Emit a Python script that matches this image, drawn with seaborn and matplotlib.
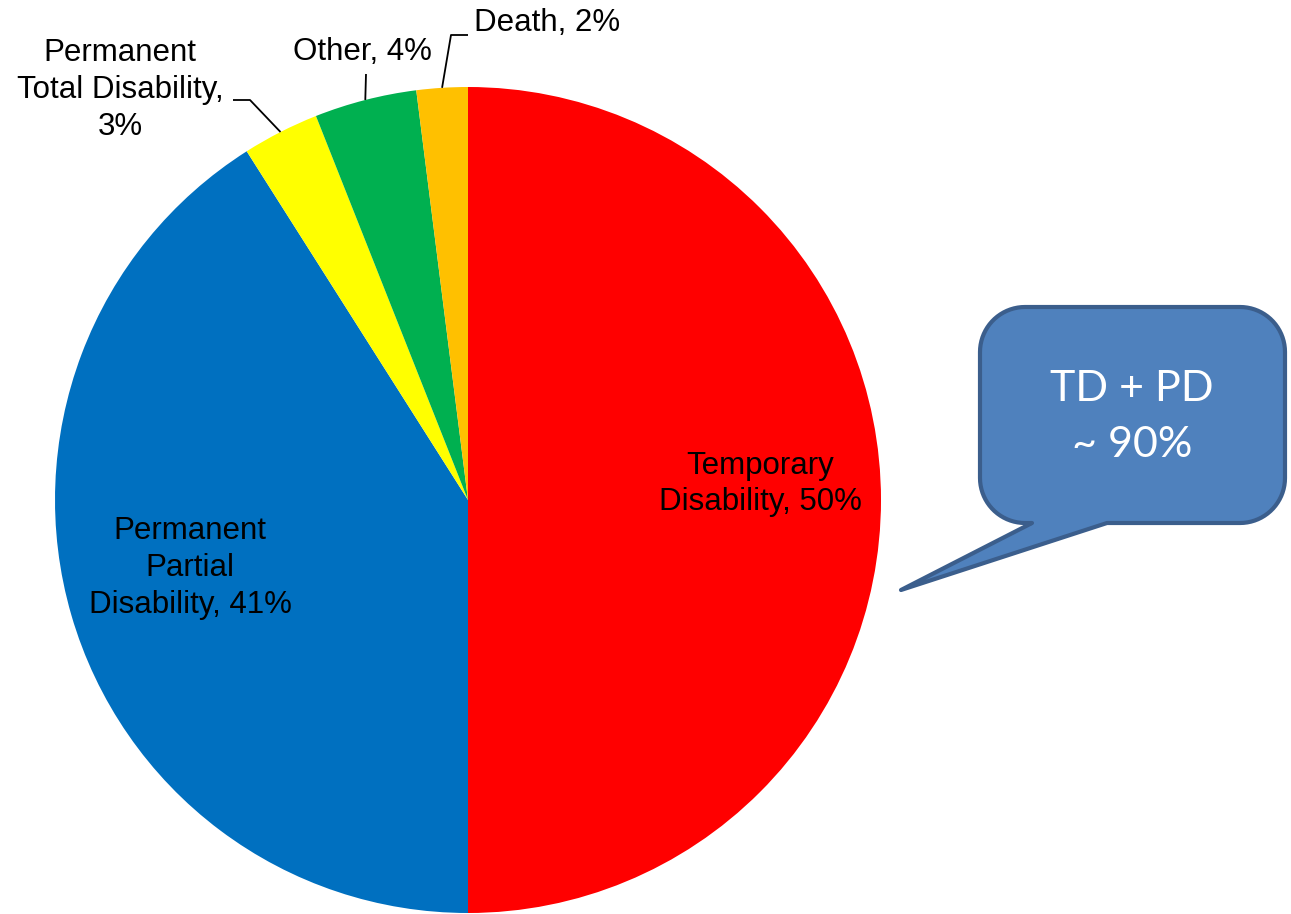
import numpy as np
import seaborn as sns
import matplotlib.pyplot as plt
from matplotlib.patches import Polygon

# data
categories = ["Temporary Disability", "Permanent Partial Disability",
              "Permanent Total Disability", "Other", "Death"]
shares = [50, 41, 3, 4, 2]
slice_labels = ["Temporary\nDisability, 50%",
                "Permanent\nPartial\nDisability, 41%",
                "Permanent\nTotal Disability,\n3%",
                "Other, 4%",
                "Death, 2%"]
slice_colors = ["#FF0000", "#0070C0", "#FFFF00", "#00B050", "#FFC000"]
callout_text = "TD + PD\n~ 90%"

sns.set_theme(style="white")
plt.rcParams['font.family'] = ['Liberation Sans', 'DejaVu Sans']

W, H = 1291, 914
fig = plt.figure(figsize=(W / 100, H / 100), dpi=100)
ax = fig.add_axes([0, 0, 1, 1])


def Y(y):
    # image pixel row -> data y
    return H - y


cx, cy, R = 468, Y(500), 413
wedges, _ = ax.pie(shares, colors=slice_colors, startangle=90, counterclock=False,
                   center=(cx, cy), radius=R, frame=True,
                   wedgeprops=dict(linewidth=0))

# label positions (image px) and optional leader elbows
label_pos = [(760, 484), (190, 568), (120, 90), (362, 52), (547, 23)]
leaders = {2: [(233, 100), (250, 100)], 3: [(366, 74)], 4: [(468, 35), (451, 35)]}

for i, (txt, (px, py)) in enumerate(zip(slice_labels, label_pos)):
    ax.text(px, Y(py), txt, ha="center", va="center", fontsize=22.5,
            color="black", linespacing=1.3)
    if i in leaders:
        w = wedges[i]
        mid = np.deg2rad((w.theta1 + w.theta2) / 2)
        ex, ey = cx + R * np.cos(mid), cy + R * np.sin(mid)
        xs = [p[0] for p in leaders[i]] + [ex]
        ys = [Y(p[1]) for p in leaders[i]] + [ey]
        ax.plot(xs, ys, color="black", lw=1.3, solid_capstyle="butt")


# speech-bubble callout
def callout_path(x0, y0, x1, y1, r, ta, tb, tip):
    pts = []
    def arc(c, a0, a1):
        for a in np.linspace(np.deg2rad(a0), np.deg2rad(a1), 20):
            pts.append((c[0] + r * np.cos(a), c[1] + r * np.sin(a)))
    arc((x0 + r, y0 + r), 180, 270)
    arc((x1 - r, y0 + r), 270, 360)
    arc((x1 - r, y1 - r), 0, 90)
    pts.append((tb, y1))
    pts.append(tip)
    pts.append((ta, y1))
    arc((x0 + r, y1 - r), 90, 180)
    return [(x, Y(y)) for x, y in pts]


bubble = Polygon(callout_path(980, 307, 1285, 523, 45, 1032, 1107, (901, 590)),
                 closed=True, facecolor="#4F81BD", edgecolor="#3B5E8C",
                 linewidth=3, joinstyle="round")
ax.add_patch(bubble)
ax.text(1132, Y(417), callout_text, ha="center", va="center", fontsize=31,
        color="white", family=["Lato", "DejaVu Sans"], linespacing=1.55)

ax.set_xlim(0, W)
ax.set_ylim(0, H)
ax.set_aspect("equal")
ax.axis("off")

plt.savefig("out.png", dpi=100)
